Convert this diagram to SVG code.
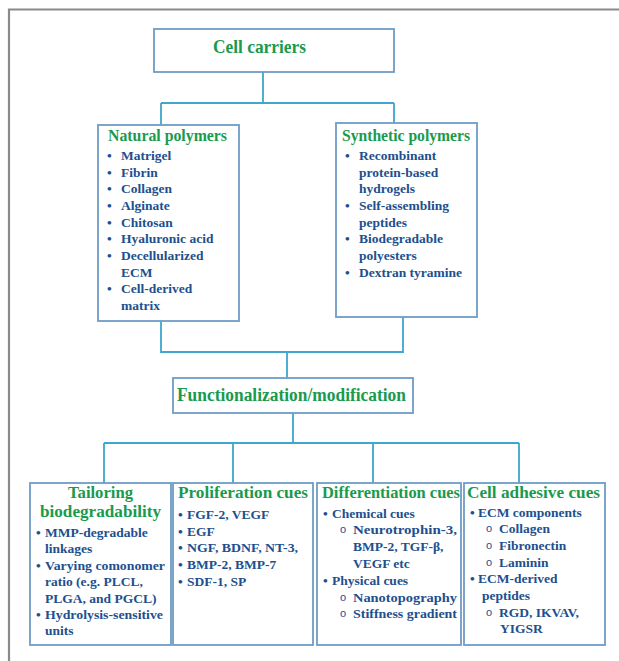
<svg xmlns="http://www.w3.org/2000/svg" width="619" height="661" viewBox="0 0 619 661">
<style>
.box{fill:#fff;stroke:#6e9cc6;stroke-width:1.8}
.con{fill:none;stroke:#3fa6cf;stroke-width:1.8}
.t{font-family:"Liberation Serif","Times New Roman",serif;font-weight:bold;fill:#1a9a4c}
.b{font-family:"Liberation Serif","Times New Roman",serif;font-weight:bold;fill:#214f8e;font-size:13.5px}
.o{font-family:"Liberation Sans",Arial,sans-serif;fill:#214f8e;font-size:11px}
</style>
<rect width="619" height="661" fill="#fff"/>
<path d="M9 661 V9.5 H619" fill="none" stroke="#8a8a8a" stroke-width="2.2"/>
<g id="connectors">
<path class="con" d="M263 72 V103 M161 103 H394 M161 103 V125 M394 103 V123"/>
<path class="con" d="M161 320 V352 H403 V316 M287 352 V378"/>
<path class="con" d="M293 413 V443 M104 443 H519 M104 443 V483 M233 443 V483 M373 443 V483 M519 443 V483"/>
</g>
<g id="cell-carriers">
<rect class="box" x="154" y="29" width="240" height="43"/>
<text class="t" x="213" y="53" font-size="19" textLength="93" lengthAdjust="spacingAndGlyphs">Cell carriers</text>
</g>
<g id="natural-polymers">
<rect class="box" x="98" y="125" width="141" height="196"/>
<text class="t" x="108" y="141" font-size="16" textLength="119" lengthAdjust="spacingAndGlyphs">Natural polymers</text>
<g class="b">
<text x="107" y="160">•</text><text x="121" y="160">Matrigel</text>
<text x="107" y="176.7">•</text><text x="121" y="176.7">Fibrin</text>
<text x="107" y="193.3">•</text><text x="121" y="193.3">Collagen</text>
<text x="107" y="210">•</text><text x="121" y="210">Alginate</text>
<text x="107" y="226.7">•</text><text x="121" y="226.7">Chitosan</text>
<text x="107" y="243.3">•</text><text x="121" y="243.3">Hyaluronic acid</text>
<text x="107" y="260">•</text><text x="121" y="260">Decellularized</text>
<text x="121" y="276.7">ECM</text>
<text x="107" y="293.3">•</text><text x="121" y="293.3">Cell-derived</text>
<text x="121" y="310">matrix</text>
</g>
</g>
<g id="synthetic-polymers">
<rect class="box" x="336" y="123" width="141" height="194"/>
<text class="t" x="342" y="141" font-size="16" textLength="128" lengthAdjust="spacingAndGlyphs">Synthetic polymers</text>
<g class="b">
<text x="345" y="160">•</text><text x="359" y="160">Recombinant</text>
<text x="359" y="176.7">protein-based</text>
<text x="359" y="193.3">hydrogels</text>
<text x="345" y="210">•</text><text x="359" y="210">Self-assembling</text>
<text x="359" y="226.7">peptides</text>
<text x="345" y="243.3">•</text><text x="359" y="243.3">Biodegradable</text>
<text x="359" y="260">polyesters</text>
<text x="345" y="276.7">•</text><text x="359" y="276.7">Dextran tyramine</text>
</g>
</g>
<g id="functionalization">
<rect class="box" x="173" y="378" width="240" height="35"/>
<text class="t" x="177" y="401" font-size="18" textLength="229" lengthAdjust="spacingAndGlyphs">Functionalization/modification</text>
</g>
<g id="tailoring">
<rect class="box" x="30" y="483" width="141" height="162"/>
<text class="t" x="68" y="498" font-size="17" textLength="65" lengthAdjust="spacingAndGlyphs">Tailoring</text>
<text class="t" x="40" y="517" font-size="17" textLength="121" lengthAdjust="spacingAndGlyphs">biodegradability</text>
<g class="b">
<text x="36" y="537">•</text><text x="45" y="537">MMP-degradable</text>
<text x="45" y="553">linkages</text>
<text x="36" y="570">•</text><text x="45" y="570" textLength="120" lengthAdjust="spacingAndGlyphs">Varying comonomer</text>
<text x="45" y="586">ratio (e.g. PLCL,</text>
<text x="45" y="603">PLGA, and PGCL)</text>
<text x="36" y="619">•</text><text x="45" y="619" textLength="118" lengthAdjust="spacingAndGlyphs">Hydrolysis-sensitive</text>
<text x="45" y="635">units</text>
</g>
</g>
<g id="proliferation">
<rect class="box" x="173" y="483" width="140" height="162"/>
<text class="t" x="178" y="498" font-size="17" textLength="130" lengthAdjust="spacingAndGlyphs">Proliferation cues</text>
<g class="b">
<text x="178" y="519">•</text><text x="187" y="519">FGF-2, VEGF</text>
<text x="178" y="536">•</text><text x="187" y="536">EGF</text>
<text x="178" y="552">•</text><text x="187" y="552" textLength="111" lengthAdjust="spacingAndGlyphs">NGF, BDNF, NT-3,</text>
<text x="178" y="569">•</text><text x="187" y="569">BMP-2, BMP-7</text>
<text x="178" y="586">•</text><text x="187" y="586">SDF-1, SP</text>
</g>
</g>
<g id="differentiation">
<rect class="box" x="317" y="483" width="144" height="162"/>
<text class="t" x="322" y="498" font-size="17" textLength="138" lengthAdjust="spacingAndGlyphs">Differentiation cues</text>
<g class="b">
<text x="323" y="518">•</text><text x="332" y="518">Chemical cues</text>
<text x="353" y="534" textLength="104" lengthAdjust="spacingAndGlyphs">Neurotrophin-3,</text>
<text x="353" y="551">BMP-2, TGF-β,</text>
<text x="353" y="568">VEGF etc</text>
<text x="323" y="585">•</text><text x="332" y="585">Physical cues</text>
<text x="353" y="602" textLength="104" lengthAdjust="spacingAndGlyphs">Nanotopography</text>
<text x="353" y="618" textLength="104" lengthAdjust="spacingAndGlyphs">Stiffness gradient</text>
</g>
<g class="o">
<text x="340" y="533">o</text>
<text x="340" y="601">o</text>
<text x="340" y="617">o</text>
</g>
</g>
<g id="cell-adhesive">
<rect class="box" x="464" y="483" width="141" height="162"/>
<text class="t" x="467" y="498" font-size="17" textLength="133" lengthAdjust="spacingAndGlyphs">Cell adhesive cues</text>
<g class="b">
<text x="470" y="517">•</text><text x="478" y="517">ECM components</text>
<text x="499" y="533">Collagen</text>
<text x="499" y="550">Fibronectin</text>
<text x="499" y="567">Laminin</text>
<text x="470" y="583">•</text><text x="478" y="583">ECM-derived</text>
<text x="482" y="600">peptides</text>
<text x="499" y="617">RGD, IKVAV,</text>
<text x="500" y="633">YIGSR</text>
</g>
<g class="o">
<text x="486" y="532">o</text>
<text x="486" y="549">o</text>
<text x="486" y="566">o</text>
<text x="486" y="616">o</text>
</g>
</g>
</svg>
